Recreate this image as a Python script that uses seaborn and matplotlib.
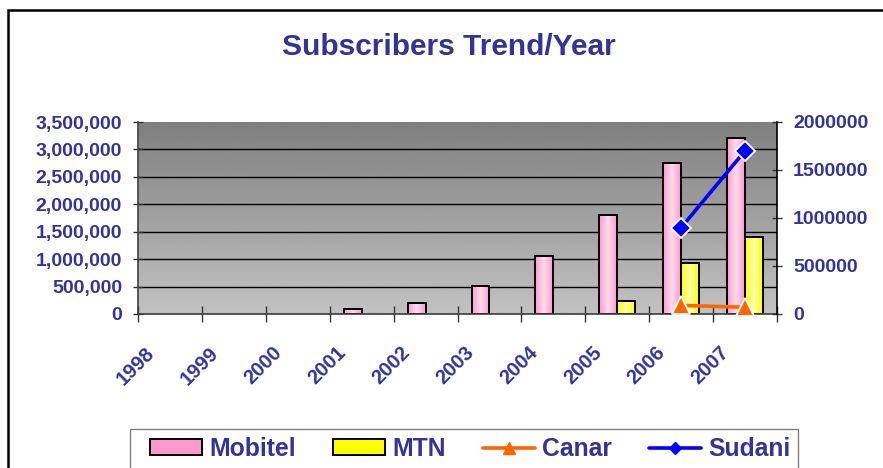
"""Subscribers trend per year: Mobitel / MTN bars, Canar / Sudani lines on a second axis."""

import matplotlib

matplotlib.use("Agg")
import matplotlib.pyplot as plt
import numpy as np
import pandas as pd
import seaborn as sns
from matplotlib.colors import to_rgb
from matplotlib.lines import Line2D
from matplotlib.patches import Patch, Rectangle
from matplotlib.ticker import FuncFormatter
from matplotlib.transforms import ScaledTranslation

# --- data ---
years = ["1998", "1999", "2000", "2001", "2002", "2003", "2004", "2005", "2006", "2007"]
nan = float("nan")
mobitel = [nan, nan, nan, 100000, 205000, 510000, 1060000, 1800000, 2750000, 3210000]
mtn = [nan, nan, nan, nan, nan, nan, nan, 240000, 925000, 1410000]
# secondary axis series
canar_years = ["2006", "2007"]
canar = [90000, 70000]
sudani_years = ["2006", "2007"]
sudani = [900000, 1700000]

left_ticks = [0, 500000, 1000000, 1500000, 2000000, 2500000, 3000000, 3500000]
right_ticks = [0, 500000, 1000000, 1500000, 2000000]

NAVY = "#333399"
PINK, PINK_HI = "#ff99cc", "#ffdcee"
YELLOW, YELLOW_HI = "#ffff00", "#ffffb0"
ORANGE = "#ff6600"
BLUE = "#0000ff"

sns.set_theme(style="white")
plt.rcParams["font.family"] = ["Liberation Sans", "DejaVu Sans"]
plt.rcParams["font.weight"] = "bold"

df = pd.DataFrame(
    {
        "year": years * 2,
        "series": ["Mobitel"] * len(years) + ["MTN"] * len(years),
        "subs": mobitel + mtn,
    }
)

W, H = 883, 468
fig = plt.figure(figsize=(W / 100, H / 100), dpi=100)
ax = fig.add_axes([138 / W, 1 - 314 / H, (777 - 138) / W, (314 - 122) / H])

sns.barplot(
    data=df,
    x="year",
    y="subs",
    hue="series",
    order=years,
    hue_order=["Mobitel", "MTN"],
    palette=[PINK, YELLOW],
    width=0.56,
    gap=0,
    errorbar=None,
    edgecolor="black",
    linewidth=1.4,
    legend=False,
    ax=ax,
    zorder=2,
)


def _gradient(edge, mid, n=64):
    c0, c1 = np.array(to_rgb(edge)), np.array(to_rgb(mid))
    t = 1 - np.abs(np.linspace(-1, 1, n))
    return (c0 + (c1 - c0) * t[:, None])[None, :, :]


# cylinder-like shading on the bars
for container, (edge, mid) in zip(ax.containers, [(PINK, PINK_HI), (YELLOW, YELLOW_HI)]):
    grad = _gradient(edge, mid)
    for bar in container:
        h = bar.get_height()
        if not np.isfinite(h) or h <= 0:
            continue
        x0, w = bar.get_x(), bar.get_width()
        ax.imshow(grad, extent=[x0, x0 + w, 0, h], aspect="auto", zorder=1.9)
        bar.set_facecolor("none")

# gray gradient plot area
bg = np.linspace(0.76, 0.5, 256)[:, None]
ax.imshow(
    bg, cmap="gray", vmin=0, vmax=1, origin="lower",
    extent=[-0.5, len(years) - 0.5, 0, left_ticks[-1]], aspect="auto", zorder=0,
)

ax.set_xlim(-0.5, len(years) - 0.5)
ax.set_ylim(0, left_ticks[-1])
ax.set_yticks(left_ticks)
ax.yaxis.set_major_formatter(FuncFormatter(lambda v, _: f"{v:,.0f}"))
ax.set_axisbelow(True)
ax.yaxis.grid(True, color="black", linewidth=1.0)
ax.xaxis.grid(False)
ax.yaxis.get_gridlines()[-1].set_visible(False)
ax.set_xlabel("")
ax.set_ylabel("")

ax.set_xticks(range(len(years)))
ax.set_xticklabels(years)
ax.set_xticks(np.arange(-0.5, len(years), 1.0), minor=True)
ax.tick_params(axis="x", which="major", length=0, pad=21, labelsize=14.5,
               labelcolor=NAVY, labelrotation=45)
ax.tick_params(axis="x", which="minor", direction="inout", length=11, width=1,
               color="#333333", bottom=True)
ax.tick_params(axis="y", direction="inout", length=7, width=1, color="#333333",
               labelsize=14, labelcolor=NAVY, pad=8, left=True)
shift = ScaledTranslation(-12 / 100, 0, fig.dpi_scale_trans)
for lbl in ax.get_xticklabels():
    lbl.set_ha("right")
    lbl.set_va("top")
    lbl.set_transform(lbl.get_transform() + shift)

for side in ["left", "bottom"]:
    ax.spines[side].set_color("#404040")
    ax.spines[side].set_linewidth(1.2)
ax.spines["top"].set_visible(False)
ax.spines["right"].set_visible(False)

# secondary axis for Canar / Sudani
ax2 = ax.twinx()
sns.lineplot(
    x=[years.index(y) for y in canar_years], y=canar, ax=ax2, color=ORANGE,
    linewidth=2.6, marker="^", markersize=13, markeredgecolor="white",
    markeredgewidth=1.3, legend=False,
)
sns.lineplot(
    x=[years.index(y) for y in sudani_years], y=sudani, ax=ax2, color=BLUE,
    linewidth=2.6, marker="D", markersize=10, markeredgecolor="white",
    markeredgewidth=1.3, legend=False,
)
ax2.set_xlim(-0.5, len(years) - 0.5)
ax2.set_ylim(0, right_ticks[-1])
ax2.set_yticks(right_ticks)
ax2.yaxis.set_major_formatter(FuncFormatter(lambda v, _: f"{v:.0f}"))
ax2.grid(False)
ax2.set_ylabel("")
ax2.tick_params(axis="y", direction="inout", length=7, width=1, color="#333333",
                labelsize=14, labelcolor=NAVY, pad=8, right=True)
for side in ["left", "top", "bottom"]:
    ax2.spines[side].set_visible(False)
ax2.spines["right"].set_color("black")
ax2.spines["right"].set_linewidth(1.2)

fig.text(449 / W, 1 - 47 / H, "Subscribers Trend/Year", ha="center", va="center",
         fontsize=21.5, fontweight="bold", color=NAVY)

handles = [
    Patch(facecolor=PINK, edgecolor="black", linewidth=1.4, label="Mobitel"),
    Patch(facecolor=YELLOW, edgecolor="black", linewidth=1.4, label="MTN"),
    Line2D([], [], color=ORANGE, linewidth=2.6, marker="^", markersize=9, label="Canar"),
    Line2D([], [], color=BLUE, linewidth=2.6, marker="D", markersize=6, label="Sudani"),
]
fig.legend(
    handles=handles, loc="upper left", bbox_to_anchor=(150 / W, 1 - 437 / H), ncol=4,
    frameon=False, prop={"size": 17.8, "weight": "bold"}, labelcolor=NAVY,
    handlelength=2.1, handleheight=0.6, handletextpad=0.3, columnspacing=1.5,
    borderpad=0, borderaxespad=0,
)
# legend box (runs off the bottom of the picture, as in the reference)
fig.add_artist(Rectangle((130 / W, -0.1), (798 - 130) / W, 0.1 + 1 - 429 / H,
                         transform=fig.transFigure, fill=False, edgecolor="#808080",
                         linewidth=1.0, clip_on=False))

# outer chart frame (cropped at right and bottom in the reference)
fig.add_artist(Rectangle((8 / W, -0.1), 1.2, 1.1 - 10 / H, transform=fig.transFigure,
                         fill=False, edgecolor="black", linewidth=1.8, clip_on=False))

fig.savefig("out.png", dpi=100)
plt.close(fig)
